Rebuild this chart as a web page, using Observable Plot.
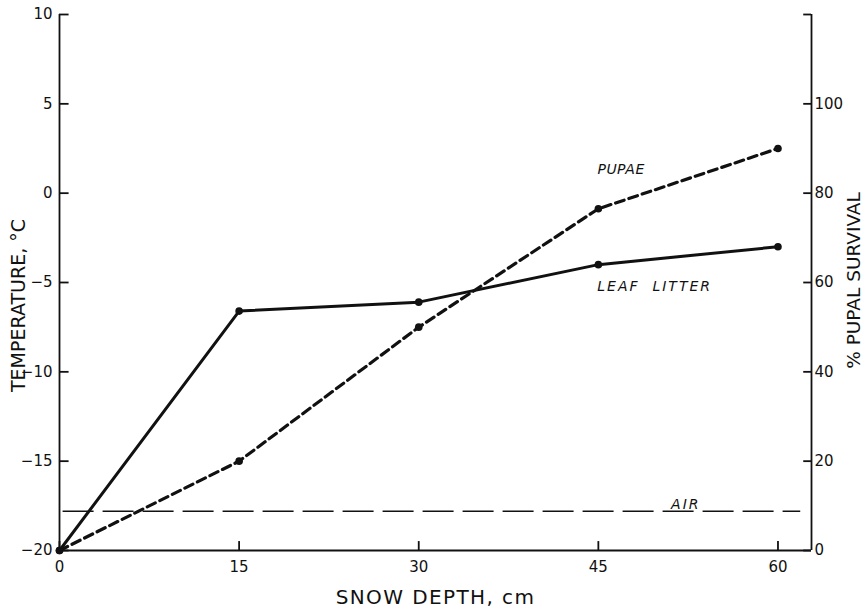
<!DOCTYPE html>
<html>
<head>
<meta charset="utf-8">
<script src="https://cdn.jsdelivr.net/npm/d3@7"></script>
<script src="https://cdn.jsdelivr.net/npm/@observablehq/plot@0.6"></script>
<style>
  html, body { margin: 0; padding: 0; background: #fff; }
  #chart svg { display: block; }
</style>
</head>
<body>
<div id="chart"></div>
<script>
// Data
const depth = [0, 15, 30, 45, 60];              // snow depth, cm
const leafLitter = [-20, -6.6, -6.1, -4.0, -3.0]; // leaf litter temperature, °C
const pupae = [0, 20, 50, 76.5, 90];           // % pupal survival
const airTemp = -17.8;                          // air temperature, °C
const xTicks = [0, 15, 30, 45, 60];
const yTicks = [-20, -15, -10, -5, 0, 5, 10];
const pctTicks = [0, 20, 40, 60, 80, 100, 120];
const pctTickLabels = ["0", "20", "40", "60", "80", "100", ""];
const seriesLabels = ["PUPAE", "LEAF  LITTER", "AIR"];
const labelX = [46.9, 49.7, 52.3];
const labelY = [1.3, -5.2, -17.4];

const xMax = 62.8;
const pctToTemp = p => p / 4 - 20; // right axis 0..120 % spans -20..10 °C
const xTickLen = 0.5;    // inward tick length on x axis, in °C
const lTickLen = 0.8;    // inward tick length on left axis, in cm
const rTickLen = 0.65;   // inward tick length on right axis, in cm

const leafData = depth.map((d, i) => ({depth: d, temp: leafLitter[i]}));
const pupaeData = depth.map((d, i) => ({depth: d, temp: pctToTemp(pupae[i])}));
const labelData = seriesLabels.map((t, i) => ({text: t, x: labelX[i], y: labelY[i]}));

// tick segments (built from tick values, positioned through the scales)
const xTickSegs = xTicks.map(v => ({x: v, y1: -20, y2: -20 + xTickLen}));
const yTickSegs = yTicks.map(v => ({y: v, x1: 0, x2: lTickLen}));
const rTickSegs = pctTicks.map(p => ({y: pctToTemp(p), x1: xMax - rTickLen, x2: xMax}));

const font = "'DejaVu Sans', sans-serif";
const ink = "#111";

const chart = Plot.plot({
  width: 867,
  height: 612,
  marginLeft: 59,
  marginRight: 56,
  marginTop: 14,
  marginBottom: 62,
  style: {fontFamily: font, background: "#fff", color: ink},
  x: {domain: [0, xMax]},
  y: {domain: [-20, 10]},
  marks: [
    // axis lines
    Plot.ruleX([0], {y1: -20, y2: 10, stroke: ink, strokeWidth: 1.8}),
    Plot.ruleX([xMax], {y1: -20, y2: 10, stroke: ink, strokeWidth: 1.8}),
    Plot.ruleY([-20], {x1: 0, x2: xMax, stroke: ink, strokeWidth: 1.8}),
    // inward tick marks
    Plot.ruleX(xTickSegs, {x: "x", y1: "y1", y2: "y2", stroke: ink, strokeWidth: 1.8}),
    Plot.ruleY(yTickSegs, {y: "y", x1: "x1", x2: "x2", stroke: ink, strokeWidth: 1.8}),
    Plot.ruleY(rTickSegs, {y: "y", x1: "x1", x2: "x2", stroke: ink, strokeWidth: 1.8}),
    // tick labels
    Plot.axisX({ticks: xTicks, tickSize: 0, tickPadding: 11, fontSize: 15, label: null}),
    Plot.axisY({anchor: "left", ticks: yTicks, tickSize: 0, tickPadding: 7, fontSize: 15, label: null}),
    Plot.axisY({anchor: "right", ticks: pctTicks.map(pctToTemp),
      tickFormat: (d, i) => pctTickLabels[i], tickSize: 0, tickPadding: 3, fontSize: 15, label: null}),
    // axis titles
    Plot.text(["TEMPERATURE, °C"], {frameAnchor: "left", textAnchor: "middle", dx: -41, dy: 23, rotate: -90, fontSize: 19, fill: ink}),
    Plot.text(["% PUPAL SURVIVAL"], {frameAnchor: "right", textAnchor: "middle", dx: 43, dy: -2, rotate: -90, fontSize: 18.5, fill: ink}),
    Plot.text(["SNOW DEPTH, cm"], {frameAnchor: "bottom", textAnchor: "middle", dy: 53, fontSize: 20, fill: ink}),
    // air line
    Plot.ruleY([airTemp], {x1: 0.3, x2: 61.9, stroke: ink, strokeWidth: 1.6, strokeDasharray: "31,9"}),
    // series
    Plot.line(pupaeData, {x: "depth", y: "temp", stroke: ink, strokeWidth: 3.2, strokeDasharray: "9,5"}),
    Plot.line(leafData, {x: "depth", y: "temp", stroke: ink, strokeWidth: 3}),
    Plot.dot(pupaeData, {x: "depth", y: "temp", r: 3.8, fill: ink}),
    Plot.dot(leafData, {x: "depth", y: "temp", r: 3.8, fill: ink}),
    // series labels
    Plot.text(labelData, {x: "x", y: "y", text: "text", fontSize: 14, fontStyle: "italic", fill: ink})
  ]
});

// letter spacing to mimic the lettering-guide style of the original
const spacing = {"SNOW DEPTH, cm": "1.4px", "LEAF  LITTER": "2px", "AIR": "2px", "PUPAE": "0.5px"};
d3.select(chart).selectAll("text").each(function () {
  const s = spacing[this.textContent];
  if (s) {
    this.setAttribute("letter-spacing", s);
    this.setAttribute("xml:space", "preserve");
    this.style.whiteSpace = "pre";
  }
});
document.getElementById("chart").append(chart);
</script>
</body>
</html>
